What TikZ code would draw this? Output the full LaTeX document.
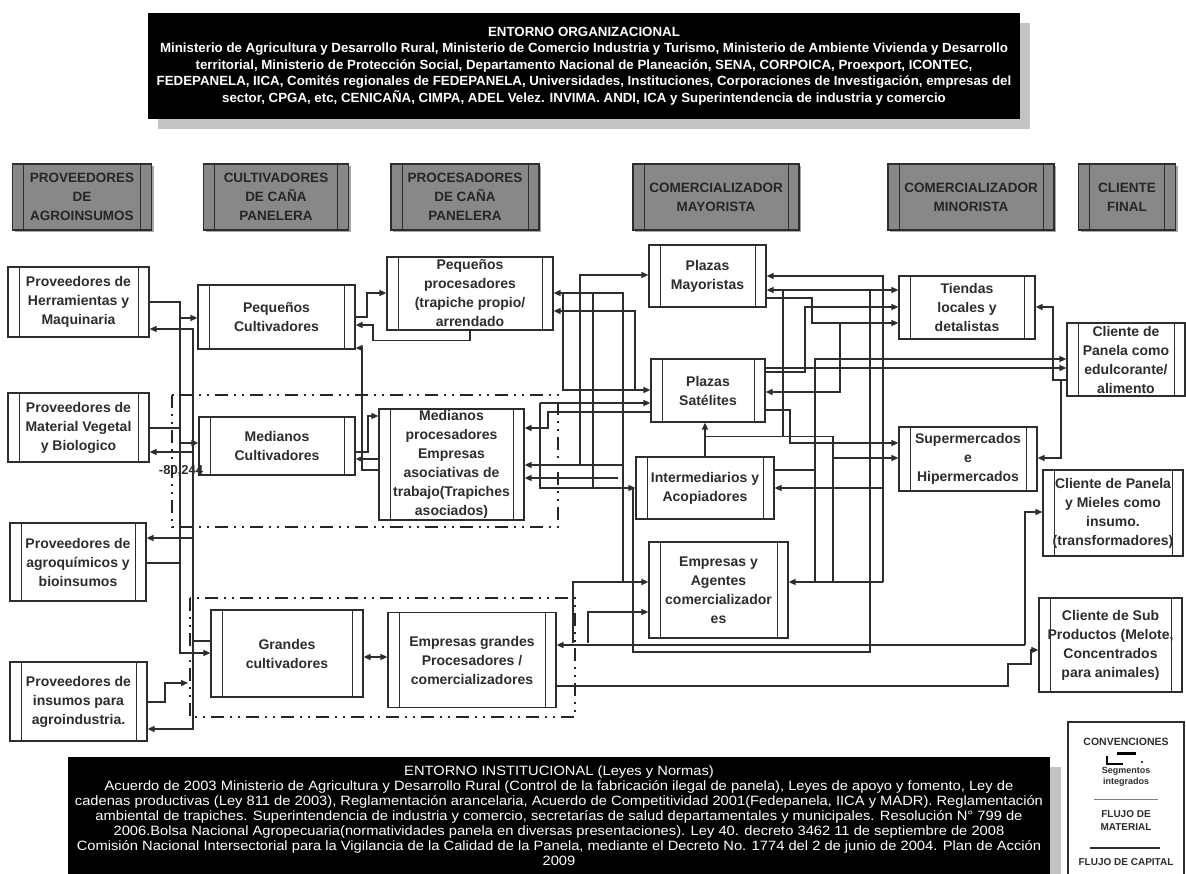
\documentclass[tikz,border=0pt]{standalone}
\usepackage{fontspec}
\setmainfont{Liberation Sans}
\newfontfamily\widesans[FakeStretch=1.09]{Liberation Sans}
\usetikzlibrary{arrows.meta,shadows}
\definecolor{inkgray}{RGB}{45,45,45}
\definecolor{hdrgray}{RGB}{136,136,136}
\definecolor{shadegray}{RGB}{195,195,195}

\tikzset{
  unit/.style 2 args={draw=inkgray, line width=1.2pt, fill=white, text=inkgray,
    minimum width=#1pt, minimum height=#2pt, inner sep=0pt, align=center,
    font=\fontsize{14}{19}\selectfont\bfseries,
    path picture={\draw[inkgray, line width=1pt]
      ([xshift=11pt]path picture bounding box.north west) -- ([xshift=11pt]path picture bounding box.south west)
      ([xshift=-11pt]path picture bounding box.north east) -- ([xshift=-11pt]path picture bounding box.south east);}},
  hdr/.style 2 args={unit={#1}{#2}, fill=hdrgray, text=black!85,
    font=\fontsize{13.5}{19}\selectfont\bfseries,
    drop shadow={shadow xshift=2pt, shadow yshift=-2pt, fill=black, opacity=0.35}},
  darkbox/.style 2 args={fill=black, text=white, minimum width=#1pt, minimum height=#2pt,
    inner sep=0pt, align=center,
    drop shadow={shadow xshift=10pt, shadow yshift=-10pt, fill=shadegray, opacity=1}},
  wire/.style={draw=inkgray, line width=1.4pt},
  feed/.style={wire, -{Triangle[length=7pt,width=6pt]}},
  segline/.style={draw=black!85, line width=2.6pt,
    dash pattern=on 13pt off 6pt on 2pt off 6pt on 2pt off 6pt},
  legtext/.style={font=\fontsize{9}{11}\selectfont\bfseries, text=inkgray, align=center, inner sep=0pt}
}

\begin{document}
\begin{tikzpicture}[x=1pt,y=-1pt]
  \useasboundingbox (0,0) rectangle (1186,874);
  \fill[white] (0,0) rectangle (1186,874);

  % entorno organizacional
  \node[darkbox={872}{106}, font=\fontsize{13.3}{16.5}\selectfont\bfseries] (org) at (584,66)
    {ENTORNO ORGANIZACIONAL\\
     Ministerio de Agricultura y Desarrollo Rural, Ministerio de Comercio Industria y Turismo, Ministerio de Ambiente Vivienda y Desarrollo\\
     territorial, Ministerio de Protección Social, Departamento Nacional de Planeación, SENA, CORPOICA, Proexport, ICONTEC,\\
     FEDEPANELA, IICA, Comités regionales de FEDEPANELA, Universidades, Instituciones, Corporaciones de Investigación, empresas del\\
     sector, CPGA, etc, CENICAÑA, CIMPA, ADEL Velez. INVIMA. ANDI, ICA y Superintendencia de industria y comercio};

  % eslabones
  \node[hdr={139}{66}] (hprov) at (82,197) {PROVEEDORES\\DE\\AGROINSUMOS};
  \node[hdr={145}{66}] (hcult) at (276,197) {CULTIVADORES\\DE CAÑA\\PANELERA};
  \node[hdr={148}{66}] (hproc) at (465,197) {PROCESADORES\\DE CAÑA\\PANELERA};
  \node[hdr={166}{66}] (hmay) at (716,197) {COMERCIALIZADOR\\MAYORISTA};
  \node[hdr={166}{66}] (hmin) at (971,197) {COMERCIALIZADOR\\MINORISTA};
  \node[hdr={97}{66}] (hcli) at (1127,197) {CLIENTE\\FINAL};

  % actores
  \node[unit={141}{70}] (herr) at (78.5,302) {Proveedores de\\Herramientas y\\Maquinaria};
  \node[unit={141}{69}] (matveg) at (78.5,427.5) {Proveedores de\\Material Vegetal\\y Biologico};
  \node[unit={136}{78}] (agroq) at (78,562) {Proveedores de\\agroquímicos y\\bioinsumos};
  \node[unit={137}{79}] (insum) at (78.5,701.5) {Proveedores de\\insumos para\\agroindustria.};
  \node[unit={157}{64}] (pc) at (276.5,317) {Pequeños\\Cultivadores};
  \node[unit={156}{58}] (mc) at (277,446) {Medianos\\Cultivadores};
  \node[unit={152}{87}] (gc) at (287,653.5) {Grandes\\cultivadores};
  \node[unit={166}{73}] (pp) at (470,293.5) {Pequeños\\procesadores\\(trapiche propio/\\arrendado};
  \node[unit={145}{111}] (mp) at (451.5,464.5) {Medianos\\procesadores\\Empresas\\asociativas de\\trabajo(Trapiches\\asociados)};
  \node[unit={168}{95}] (eg) at (472,660) {Empresas grandes\\Procesadores /\\comercializadores};
  \node[unit={117}{62}] (pm) at (707.5,276) {Plazas\\Mayoristas};
  \node[unit={114}{63}] (ps) at (708,390.5) {Plazas\\Satélites};
  \node[unit={138}{62}] (inter) at (705,488) {Intermediarios y\\Acopiadores};
  \node[unit={139}{96}] (eya) at (718.5,590) {Empresas y\\Agentes\\comercializador\\es};
  \node[unit={136}{63}] (tie) at (967,307.5) {Tiendas\\locales y\\detalistas};
  \node[unit={138}{64}] (sup) at (968,459) {Supermercados\\e\\Hipermercados};
  \node[unit={118}{73}] (ced) at (1126,359.5) {Cliente de\\Panela como\\edulcorante/\\alimento};
  \node[unit={140}{86}] (cmi) at (1113,513) {Cliente de Panela\\y Mieles como\\insumo.\\(transformadores)};
  \node[unit={143}{94}] (csp) at (1110.5,645) {Cliente de Sub\\Productos (Melote,\\Concentrados\\para animales)};

  % segmentos integrados
  \draw[segline] (172,395) rectangle (558,527);
  \draw[segline] (190,598) rectangle (575,717);

  % proveedores - cultivadores
  \draw[feed] (herr.east |- 0,302) -| (180,653) -- (gc.west |- 0,653);
  \draw[wire] (matveg.east |- 0,428) -- (180,428);
  \draw[wire] (agroq.east |- 0,563) -- (180,563);
  \draw[feed] (180,318) -- (pc.west |- 0,318);
  \draw[feed] (180,443) -- (mc.west |- 0,443);
  \draw[feed] (insum.east |- 0,702) -| (165,683) -- (188,683);
  \draw[feed] (gc.west |- 0,641) -| (193,329) -- (herr.east |- 0,329);
  \draw[feed] (193,452) -- (matveg.east |- 0,452);
  \draw[feed] (193,538) -- (agroq.east |- 0,538);
  \draw[feed] (193,641) |- (insum.east |- 0,729);

  % cultivadores - procesadores
  \draw[feed] (pc.east |- 0,317) -- (367,317) |- (pp.west |- 0,293);
  \draw[feed] (pp.south) -- ++(0,10) -| (373,325) -- (pc.east |- 0,325);
  \draw[feed] (mp.west |- 0,470) -- (362,470) |- (pc.east |- 0,348);
  \draw[feed] (mc.east |- 0,452) -- (368,452) |- (mp.west |- 0,416);
  \draw[feed] (mp.west |- 0,459) -- (mc.east |- 0,459);
  \draw[wire, {Triangle[length=7pt,width=6pt]}-{Triangle[length=7pt,width=6pt]}] (gc.east |- 0,657) -- (eg.west |- 0,657);

  % procesadores - mayoristas
  \draw[feed] (623,582) |- (pp.east |- 0,293);
  \draw[feed] (573,643) |- (eya.west |- 0,582);
  \draw[feed] (588,643) |- (eya.west |- 0,612);
  \draw[feed] (635,390) |- (pp.east |- 0,311);
  \draw[feed] (563,293) |- (ps.west |- 0,390);
  \draw[feed] (580,465) |- (pm.west |- 0,275);
  \draw[feed] (623,465) -- (mp.east |- 0,465);
  \draw[feed] (618,478) -- (mp.east |- 0,478);
  \draw[wire] (593,293) -- (593,488);
  \draw[feed] (540,403) |- (inter.west |- 0,488);
  \draw[feed] (540,403) -- (ps.west |- 0,403);
  \draw[feed] (ps.west |- 0,412) -| (548,428) -- (mp.east |- 0,428);
  \draw[feed] (inter.north) -- (inter.north |- ps.south);

  % mayoristas - minoristas
  \draw[feed] (883,582) |- (pm.east |- 0,276);
  \draw[feed] (883,582) -- (eya.east |- 0,582);
  \draw[feed] (883,488) -- (inter.east |- 0,488);
  \draw[feed] (870,652) |- (pm.east |- 0,290);
  \draw[feed] (783,437) |- (tie.west |- 0,290);
  \draw[feed] (ps.east |- 0,372) -| (805,307) -- (tie.west |- 0,307);
  \draw[feed] (pm.east |- 0,298) -| (812,323) -- (tie.west |- 0,323);
  \draw[feed] (inter.east |- 0,470) -| (815,359) -- (ced.west |- 0,359);
  \draw[wire] (815,470) -- (815,582);
  \draw[feed] (ps.east |- 0,368) -- (ced.west |- 0,368);
  \draw[feed] (840,323) |- (ps.east |- 0,392);
  \draw[feed] (inter.north) -- ++(0,-20) -| (833,458) -- (sup.west |- 0,458);
  \draw[wire] (833,458) -- (833,582);
  \draw[feed] (ps.east |- 0,410) -| (790,443) -- (sup.west |- 0,443);
  \draw[feed] (ced.west |- 0,380) -| (1053,307) -- (tie.east |- 0,307);
  \draw[feed] (ced.west |- 0,380) -| (1061,458) -- (sup.east |- 0,458);

  % hacia clientes
  \draw[feed] (1025,645) -- (eg.east |- 0,645);
  \draw[feed] (1025,645) |- (cmi.west |- 0,512);
  \draw[feed] (eg.east |- 0,686) -- (1008,686) |- (1031,664) |- (csp.west |- 0,650);
  \draw[wire] (633,488) -- (633,652) -| (870,640);

  \node[font=\fontsize{13}{15}\selectfont\bfseries, text=inkgray] (lbl) at (181,471) {-80,244};

  % entorno institucional
  \fill[shadegray] (1050,767) rectangle (1061,874);
  \node[darkbox={982}{117}, font=\widesans\fontsize{13.5}{15}\selectfont] (inst) at (559,815.5)
    {ENTORNO INSTITUCIONAL (Leyes y Normas)\\
     Acuerdo  de 2003 Ministerio de Agricultura y Desarrollo Rural  (Control de la fabricación ilegal de panela), Leyes de apoyo y fomento, Ley de\\
     cadenas productivas (Ley 811 de 2003), Reglamentación arancelaria, Acuerdo de Competitividad 2001(Fedepanela, IICA y MADR). Reglamentación\\
     ambiental de trapiches. Superintendencia de industria y comercio, secretarías de salud departamentales y municipales. Resolución N° 799 de\\
     2006.Bolsa Nacional Agropecuaria(normatividades panela en diversas presentaciones). Ley 40. decreto 3462 11 de septiembre de 2008\\
     Comisión Nacional Intersectorial para la Vigilancia de la Calidad de la Panela, mediante el Decreto No. 1774 del 2 de junio de 2004. Plan de Acción\\
     2009};

  % convenciones
  \node[draw=inkgray, line width=1.2pt, fill=white, minimum width=116pt, minimum height=156pt, inner sep=0pt] (conv) at (1126,800) {};
  \node[legtext, font=\fontsize{10.5}{12}\selectfont\bfseries] (convt) at (1126,742) {CONVENCIONES};
  \draw[black, line width=3pt] (1117,753) -- (1136,753);
  \draw[black, line width=1.4pt] (1107,756) |- (1123,764);
  \fill[black] (1142,762) circle (1.2pt);
  \node[legtext] (segt) at (1126,777) {Segmentos\\integrados};
  \draw[gray, line width=0.8pt] (1094,799) -- (1158,799);
  \node[legtext, font=\fontsize{10}{13}\selectfont\bfseries] (matt) at (1126,821) {FLUJO DE\\MATERIAL};
  \draw[inkgray, line width=1.6pt] (1090,848) -- (1160,848);
  \node[legtext, font=\fontsize{10}{12}\selectfont\bfseries] (capt) at (1126,862) {FLUJO DE CAPITAL};
\end{tikzpicture}
\end{document}
